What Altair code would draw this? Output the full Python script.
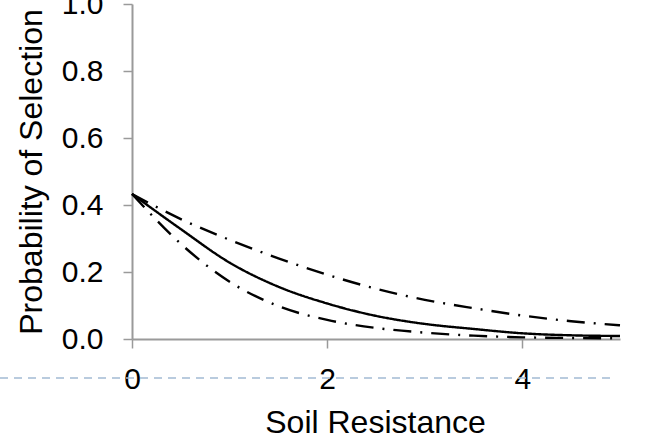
import altair as alt
import pandas as pd

# Soil resistance values (x) and probability of selection for each curve
soil_resistance = [0, 0.5, 1, 1.5, 2, 2.5, 3, 3.5, 4, 4.5, 5]
upper_bound = [0.433, 0.358, 0.296, 0.241, 0.192, 0.150, 0.117, 0.092, 0.070, 0.053, 0.041]
estimate = [0.433, 0.328, 0.228, 0.156, 0.106, 0.069, 0.045, 0.030, 0.017, 0.011, 0.009]
lower_bound = [0.433, 0.284, 0.171, 0.098, 0.057, 0.033, 0.019, 0.010, 0.005, 0.003, 0.002]

series_names = ["Upper", "Estimate", "Lower"]
x_ticks = [0, 2, 4]
y_ticks = [0.0, 0.2, 0.4, 0.6, 0.8, 1.0]

rows = []
for name, vals in zip(series_names, [upper_bound, estimate, lower_bound]):
    for x, y in zip(soil_resistance, vals):
        rows.append({"series": name, "x": x, "y": y})
df = pd.DataFrame(rows)

FONT = "Liberation Sans"
AXIS_GREY = "#9a9a9a"

lines = alt.Chart(df).mark_line(interpolate="monotone", strokeWidth=2.4, color="black").encode(
    x=alt.X(
        "x:Q",
        scale=alt.Scale(domain=[0, 5], nice=False, zero=False),
        axis=alt.Axis(
            values=x_ticks, format="d", grid=False, title="Soil Resistance",
            labelFlush=False,
            domainColor=AXIS_GREY, domainWidth=2, tickColor=AXIS_GREY, tickWidth=1.5,
            tickSize=9, labelPadding=16, labelFontSize=30, labelFont=FONT,
            labelColor="black", titleFont=FONT, titleFontSize=32,
            titleFontWeight="normal", titleColor="black",
            titleBaseline="alphabetic", titleY=93, titleX=243,
        ),
    ),
    y=alt.Y(
        "y:Q",
        scale=alt.Scale(domain=[0, 1], nice=False),
        axis=alt.Axis(
            values=y_ticks, format=".1f", grid=False, title="Probability of Selection",
            labelFlush=False,
            domainColor=AXIS_GREY, domainWidth=2, tickColor=AXIS_GREY, tickWidth=1.5,
            tickSize=9, labelPadding=20, labelFontSize=30, labelFont=FONT,
            labelColor="black", titleFont=FONT, titleFontSize=32,
            titleFontWeight="normal", titleColor="black",
            titleBaseline="alphabetic", titleX=-91, titleY=167.5,
        ),
    ),
    strokeDash=alt.StrokeDash(
        "series:N",
        scale=alt.Scale(domain=series_names, range=[[18, 9, 2, 9], [1, 0], [18, 9, 2, 9]]),
        legend=None,
    ),
    detail="series:N",
)

deco = alt.Chart(pd.DataFrame({"a": [0]})).mark_rule(
    color="#a3bad3", strokeWidth=1.5, strokeDash=[8, 6]
).encode(x=alt.value(-132), x2=alt.value(481), y=alt.value(374))

chart = alt.layer(deco, lines).properties(
    width=488, height=335,
    autosize=alt.AutoSizeParams(type="none"),
    padding={"left": 132, "top": 4, "right": 45, "bottom": 99},
).configure_view(stroke=None)

chart.save("out.html", embed_options={"renderer": "svg", "actions": False})
